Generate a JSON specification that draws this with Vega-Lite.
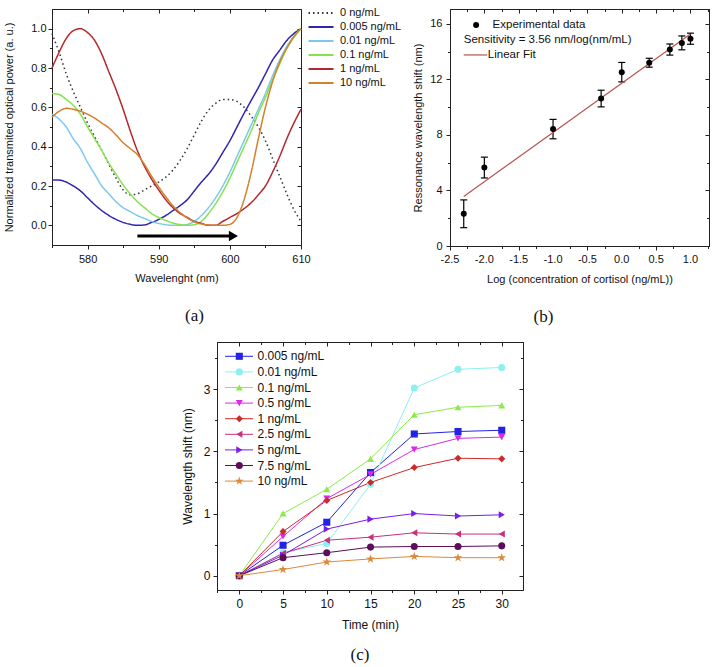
{
"$schema":"https://vega.github.io/schema/vega-lite/v6.json",
"padding":{"left":3,"top":6,"right":0,"bottom":0},
"background":"white",
"config":{
 "font":"Liberation Sans",
 "locale":{"number":{"decimal":".","thousands":",","grouping":[3],"currency":["$",""],"minus":"-"}},
 "view":{"stroke":"#222","strokeWidth":1},
 "axis":{"grid":false,"domainColor":"#222","tickColor":"#222","labelColor":"#111","titleColor":"#111","labelFont":"Liberation Sans","titleFont":"Liberation Sans","labelFontSize":11,"titleFontSize":11,"titleFontWeight":"normal","tickSize":4,"labelPadding":2,"labelFlush":false,"labelOverlap":false},
 "legend":{"labelFont":"Liberation Sans","labelColor":"#111"},
 "title":{"font":"Liberation Serif","fontSize":17,"fontWeight":"normal","color":"#111","orient":"bottom","anchor":"middle","frame":"group"}
},
"resolve":{"scale":{"color":"independent","strokeDash":"independent","fill":"independent","shape":"independent"},"legend":{"color":"independent","strokeDash":"independent","fill":"independent","shape":"independent"}},
"datasets":{
 "spectra":[
{"c":"0 ng/mL","wl":575,"p":0.975},{"c":"0 ng/mL","wl":576,"p":0.88},{"c":"0 ng/mL","wl":577,"p":0.77},{"c":"0 ng/mL","wl":578,"p":0.68},{"c":"0 ng/mL","wl":579,"p":0.60},{"c":"0 ng/mL","wl":580,"p":0.52},{"c":"0 ng/mL","wl":581,"p":0.45},{"c":"0 ng/mL","wl":582,"p":0.38},{"c":"0 ng/mL","wl":583,"p":0.31},{"c":"0 ng/mL","wl":584,"p":0.24},{"c":"0 ng/mL","wl":585,"p":0.18},{"c":"0 ng/mL","wl":586,"p":0.155},{"c":"0 ng/mL","wl":587,"p":0.16},{"c":"0 ng/mL","wl":588,"p":0.18},{"c":"0 ng/mL","wl":589,"p":0.20},{"c":"0 ng/mL","wl":590,"p":0.22},{"c":"0 ng/mL","wl":591,"p":0.245},{"c":"0 ng/mL","wl":592,"p":0.28},{"c":"0 ng/mL","wl":593,"p":0.33},{"c":"0 ng/mL","wl":594,"p":0.39},{"c":"0 ng/mL","wl":595,"p":0.46},{"c":"0 ng/mL","wl":596,"p":0.53},{"c":"0 ng/mL","wl":597,"p":0.585},{"c":"0 ng/mL","wl":598,"p":0.62},{"c":"0 ng/mL","wl":599,"p":0.64},{"c":"0 ng/mL","wl":600,"p":0.64},{"c":"0 ng/mL","wl":601,"p":0.63},{"c":"0 ng/mL","wl":602,"p":0.60},{"c":"0 ng/mL","wl":603,"p":0.555},{"c":"0 ng/mL","wl":604,"p":0.50},{"c":"0 ng/mL","wl":605,"p":0.43},{"c":"0 ng/mL","wl":606,"p":0.34},{"c":"0 ng/mL","wl":607,"p":0.25},{"c":"0 ng/mL","wl":608,"p":0.16},{"c":"0 ng/mL","wl":609,"p":0.08},{"c":"0 ng/mL","wl":610,"p":0.02},
{"c":"0.005 ng/mL","wl":575,"p":0.23},{"c":"0.005 ng/mL","wl":576,"p":0.23},{"c":"0.005 ng/mL","wl":577,"p":0.22},{"c":"0.005 ng/mL","wl":578,"p":0.20},{"c":"0.005 ng/mL","wl":579,"p":0.175},{"c":"0.005 ng/mL","wl":580,"p":0.14},{"c":"0.005 ng/mL","wl":581,"p":0.105},{"c":"0.005 ng/mL","wl":582,"p":0.075},{"c":"0.005 ng/mL","wl":583,"p":0.05},{"c":"0.005 ng/mL","wl":584,"p":0.03},{"c":"0.005 ng/mL","wl":585,"p":0.015},{"c":"0.005 ng/mL","wl":586,"p":0.005},{"c":"0.005 ng/mL","wl":587,"p":0.0},{"c":"0.005 ng/mL","wl":588,"p":0.002},{"c":"0.005 ng/mL","wl":589,"p":0.015},{"c":"0.005 ng/mL","wl":590,"p":0.03},{"c":"0.005 ng/mL","wl":591,"p":0.05},{"c":"0.005 ng/mL","wl":592,"p":0.075},{"c":"0.005 ng/mL","wl":593,"p":0.10},{"c":"0.005 ng/mL","wl":594,"p":0.13},{"c":"0.005 ng/mL","wl":595,"p":0.175},{"c":"0.005 ng/mL","wl":596,"p":0.22},{"c":"0.005 ng/mL","wl":597,"p":0.26},{"c":"0.005 ng/mL","wl":598,"p":0.31},{"c":"0.005 ng/mL","wl":599,"p":0.37},{"c":"0.005 ng/mL","wl":600,"p":0.43},{"c":"0.005 ng/mL","wl":601,"p":0.50},{"c":"0.005 ng/mL","wl":602,"p":0.57},{"c":"0.005 ng/mL","wl":603,"p":0.635},{"c":"0.005 ng/mL","wl":604,"p":0.70},{"c":"0.005 ng/mL","wl":605,"p":0.77},{"c":"0.005 ng/mL","wl":606,"p":0.84},{"c":"0.005 ng/mL","wl":607,"p":0.89},{"c":"0.005 ng/mL","wl":608,"p":0.94},{"c":"0.005 ng/mL","wl":609,"p":0.975},{"c":"0.005 ng/mL","wl":610,"p":1.0},
{"c":"0.01 ng/mL","wl":575,"p":0.565},{"c":"0.01 ng/mL","wl":576,"p":0.54},{"c":"0.01 ng/mL","wl":577,"p":0.50},{"c":"0.01 ng/mL","wl":578,"p":0.44},{"c":"0.01 ng/mL","wl":579,"p":0.39},{"c":"0.01 ng/mL","wl":580,"p":0.32},{"c":"0.01 ng/mL","wl":581,"p":0.26},{"c":"0.01 ng/mL","wl":582,"p":0.20},{"c":"0.01 ng/mL","wl":583,"p":0.16},{"c":"0.01 ng/mL","wl":584,"p":0.12},{"c":"0.01 ng/mL","wl":585,"p":0.09},{"c":"0.01 ng/mL","wl":586,"p":0.07},{"c":"0.01 ng/mL","wl":587,"p":0.05},{"c":"0.01 ng/mL","wl":588,"p":0.035},{"c":"0.01 ng/mL","wl":589,"p":0.02},{"c":"0.01 ng/mL","wl":590,"p":0.01},{"c":"0.01 ng/mL","wl":591,"p":0.003},{"c":"0.01 ng/mL","wl":592,"p":0.0},{"c":"0.01 ng/mL","wl":593,"p":0.0},{"c":"0.01 ng/mL","wl":594,"p":0.005},{"c":"0.01 ng/mL","wl":595,"p":0.02},{"c":"0.01 ng/mL","wl":596,"p":0.05},{"c":"0.01 ng/mL","wl":597,"p":0.09},{"c":"0.01 ng/mL","wl":598,"p":0.14},{"c":"0.01 ng/mL","wl":599,"p":0.20},{"c":"0.01 ng/mL","wl":600,"p":0.27},{"c":"0.01 ng/mL","wl":601,"p":0.35},{"c":"0.01 ng/mL","wl":602,"p":0.43},{"c":"0.01 ng/mL","wl":603,"p":0.51},{"c":"0.01 ng/mL","wl":604,"p":0.59},{"c":"0.01 ng/mL","wl":605,"p":0.67},{"c":"0.01 ng/mL","wl":606,"p":0.76},{"c":"0.01 ng/mL","wl":607,"p":0.84},{"c":"0.01 ng/mL","wl":608,"p":0.91},{"c":"0.01 ng/mL","wl":609,"p":0.96},{"c":"0.01 ng/mL","wl":610,"p":1.0},
{"c":"0.1 ng/mL","wl":575,"p":0.67},{"c":"0.1 ng/mL","wl":576,"p":0.665},{"c":"0.1 ng/mL","wl":577,"p":0.64},{"c":"0.1 ng/mL","wl":578,"p":0.61},{"c":"0.1 ng/mL","wl":579,"p":0.565},{"c":"0.1 ng/mL","wl":580,"p":0.50},{"c":"0.1 ng/mL","wl":581,"p":0.44},{"c":"0.1 ng/mL","wl":582,"p":0.38},{"c":"0.1 ng/mL","wl":583,"p":0.315},{"c":"0.1 ng/mL","wl":584,"p":0.26},{"c":"0.1 ng/mL","wl":585,"p":0.205},{"c":"0.1 ng/mL","wl":586,"p":0.16},{"c":"0.1 ng/mL","wl":587,"p":0.12},{"c":"0.1 ng/mL","wl":588,"p":0.09},{"c":"0.1 ng/mL","wl":589,"p":0.06},{"c":"0.1 ng/mL","wl":590,"p":0.04},{"c":"0.1 ng/mL","wl":591,"p":0.025},{"c":"0.1 ng/mL","wl":592,"p":0.012},{"c":"0.1 ng/mL","wl":593,"p":0.004},{"c":"0.1 ng/mL","wl":594,"p":0.0},{"c":"0.1 ng/mL","wl":595,"p":0.003},{"c":"0.1 ng/mL","wl":596,"p":0.02},{"c":"0.1 ng/mL","wl":597,"p":0.06},{"c":"0.1 ng/mL","wl":598,"p":0.11},{"c":"0.1 ng/mL","wl":599,"p":0.17},{"c":"0.1 ng/mL","wl":600,"p":0.24},{"c":"0.1 ng/mL","wl":601,"p":0.32},{"c":"0.1 ng/mL","wl":602,"p":0.40},{"c":"0.1 ng/mL","wl":603,"p":0.48},{"c":"0.1 ng/mL","wl":604,"p":0.57},{"c":"0.1 ng/mL","wl":605,"p":0.65},{"c":"0.1 ng/mL","wl":606,"p":0.74},{"c":"0.1 ng/mL","wl":607,"p":0.82},{"c":"0.1 ng/mL","wl":608,"p":0.90},{"c":"0.1 ng/mL","wl":609,"p":0.955},{"c":"0.1 ng/mL","wl":610,"p":1.0},
{"c":"1 ng/mL","wl":575,"p":0.80},{"c":"1 ng/mL","wl":576,"p":0.88},{"c":"1 ng/mL","wl":577,"p":0.95},{"c":"1 ng/mL","wl":578,"p":0.99},{"c":"1 ng/mL","wl":579,"p":1.0},{"c":"1 ng/mL","wl":580,"p":0.98},{"c":"1 ng/mL","wl":581,"p":0.94},{"c":"1 ng/mL","wl":582,"p":0.87},{"c":"1 ng/mL","wl":583,"p":0.78},{"c":"1 ng/mL","wl":584,"p":0.69},{"c":"1 ng/mL","wl":585,"p":0.59},{"c":"1 ng/mL","wl":586,"p":0.48},{"c":"1 ng/mL","wl":587,"p":0.38},{"c":"1 ng/mL","wl":588,"p":0.30},{"c":"1 ng/mL","wl":589,"p":0.235},{"c":"1 ng/mL","wl":590,"p":0.18},{"c":"1 ng/mL","wl":591,"p":0.13},{"c":"1 ng/mL","wl":592,"p":0.09},{"c":"1 ng/mL","wl":593,"p":0.06},{"c":"1 ng/mL","wl":594,"p":0.04},{"c":"1 ng/mL","wl":595,"p":0.02},{"c":"1 ng/mL","wl":596,"p":0.01},{"c":"1 ng/mL","wl":597,"p":0.0},{"c":"1 ng/mL","wl":598,"p":0.0},{"c":"1 ng/mL","wl":599,"p":0.02},{"c":"1 ng/mL","wl":600,"p":0.04},{"c":"1 ng/mL","wl":601,"p":0.06},{"c":"1 ng/mL","wl":602,"p":0.085},{"c":"1 ng/mL","wl":603,"p":0.115},{"c":"1 ng/mL","wl":604,"p":0.155},{"c":"1 ng/mL","wl":605,"p":0.20},{"c":"1 ng/mL","wl":606,"p":0.27},{"c":"1 ng/mL","wl":607,"p":0.35},{"c":"1 ng/mL","wl":608,"p":0.44},{"c":"1 ng/mL","wl":609,"p":0.52},{"c":"1 ng/mL","wl":610,"p":0.59},
{"c":"10 ng/mL","wl":575,"p":0.55},{"c":"10 ng/mL","wl":576,"p":0.58},{"c":"10 ng/mL","wl":577,"p":0.595},{"c":"10 ng/mL","wl":578,"p":0.59},{"c":"10 ng/mL","wl":579,"p":0.58},{"c":"10 ng/mL","wl":580,"p":0.565},{"c":"10 ng/mL","wl":581,"p":0.545},{"c":"10 ng/mL","wl":582,"p":0.52},{"c":"10 ng/mL","wl":583,"p":0.495},{"c":"10 ng/mL","wl":584,"p":0.46},{"c":"10 ng/mL","wl":585,"p":0.42},{"c":"10 ng/mL","wl":586,"p":0.39},{"c":"10 ng/mL","wl":587,"p":0.36},{"c":"10 ng/mL","wl":588,"p":0.31},{"c":"10 ng/mL","wl":589,"p":0.25},{"c":"10 ng/mL","wl":590,"p":0.195},{"c":"10 ng/mL","wl":591,"p":0.145},{"c":"10 ng/mL","wl":592,"p":0.10},{"c":"10 ng/mL","wl":593,"p":0.065},{"c":"10 ng/mL","wl":594,"p":0.038},{"c":"10 ng/mL","wl":595,"p":0.018},{"c":"10 ng/mL","wl":596,"p":0.007},{"c":"10 ng/mL","wl":597,"p":0.002},{"c":"10 ng/mL","wl":598,"p":0.0},{"c":"10 ng/mL","wl":599,"p":0.0},{"c":"10 ng/mL","wl":600,"p":0.005},{"c":"10 ng/mL","wl":601,"p":0.04},{"c":"10 ng/mL","wl":602,"p":0.13},{"c":"10 ng/mL","wl":603,"p":0.27},{"c":"10 ng/mL","wl":604,"p":0.44},{"c":"10 ng/mL","wl":605,"p":0.60},{"c":"10 ng/mL","wl":606,"p":0.73},{"c":"10 ng/mL","wl":607,"p":0.83},{"c":"10 ng/mL","wl":608,"p":0.90},{"c":"10 ng/mL","wl":609,"p":0.96},{"c":"10 ng/mL","wl":610,"p":1.0}
 ],
 "calib":[
{"lc":-2.3,"sh":2.32,"lo":1.32,"hi":3.32},{"lc":-2.0,"sh":5.65,"lo":4.9,"hi":6.4},{"lc":-1.0,"sh":8.42,"lo":7.72,"hi":9.12},{"lc":-0.3,"sh":10.62,"lo":10.02,"hi":11.22},{"lc":0.0,"sh":12.52,"lo":11.82,"hi":13.22},{"lc":0.4,"sh":13.2,"lo":12.88,"hi":13.52},{"lc":0.7,"sh":14.15,"lo":13.75,"hi":14.55},{"lc":0.875,"sh":14.63,"lo":14.13,"hi":15.13},{"lc":1.0,"sh":14.93,"lo":14.53,"hi":15.33}
 ],
 "fit":[{"lc":-2.3,"sh":3.57},{"lc":1.0,"sh":15.27}],
 "bticks":[{"lc":-2.5,"lab":"-2.5"},{"lc":-2,"lab":"-2.0"},{"lc":-1.5,"lab":"-1.5"},{"lc":-1,"lab":"-1.0"},{"lc":-0.5,"lab":"-0.5"},{"lc":0,"lab":"0.0"},{"lc":0.5,"lab":"0.5"},{"lc":1,"lab":"1.0"}],
 "kinetics":[
{"c":"0.005 ng/mL","t":0,"s":0},{"c":"0.005 ng/mL","t":5,"s":0.49},{"c":"0.005 ng/mL","t":10,"s":0.86},{"c":"0.005 ng/mL","t":15,"s":1.66},{"c":"0.005 ng/mL","t":20,"s":2.28},{"c":"0.005 ng/mL","t":25,"s":2.32},{"c":"0.005 ng/mL","t":30,"s":2.34},
{"c":"0.01 ng/mL","t":0,"s":0},{"c":"0.01 ng/mL","t":5,"s":0.37},{"c":"0.01 ng/mL","t":10,"s":0.52},{"c":"0.01 ng/mL","t":15,"s":1.47},{"c":"0.01 ng/mL","t":20,"s":3.02},{"c":"0.01 ng/mL","t":25,"s":3.32},{"c":"0.01 ng/mL","t":30,"s":3.35},
{"c":"0.1 ng/mL","t":0,"s":0},{"c":"0.1 ng/mL","t":5,"s":1.0},{"c":"0.1 ng/mL","t":10,"s":1.39},{"c":"0.1 ng/mL","t":15,"s":1.88},{"c":"0.1 ng/mL","t":20,"s":2.59},{"c":"0.1 ng/mL","t":25,"s":2.71},{"c":"0.1 ng/mL","t":30,"s":2.74},
{"c":"0.5 ng/mL","t":0,"s":0},{"c":"0.5 ng/mL","t":5,"s":0.63},{"c":"0.5 ng/mL","t":10,"s":1.24},{"c":"0.5 ng/mL","t":15,"s":1.63},{"c":"0.5 ng/mL","t":20,"s":2.03},{"c":"0.5 ng/mL","t":25,"s":2.21},{"c":"0.5 ng/mL","t":30,"s":2.23},
{"c":"1 ng/mL","t":0,"s":0},{"c":"1 ng/mL","t":5,"s":0.71},{"c":"1 ng/mL","t":10,"s":1.21},{"c":"1 ng/mL","t":15,"s":1.5},{"c":"1 ng/mL","t":20,"s":1.74},{"c":"1 ng/mL","t":25,"s":1.89},{"c":"1 ng/mL","t":30,"s":1.88},
{"c":"2.5 ng/mL","t":0,"s":0},{"c":"2.5 ng/mL","t":5,"s":0.36},{"c":"2.5 ng/mL","t":10,"s":0.57},{"c":"2.5 ng/mL","t":15,"s":0.62},{"c":"2.5 ng/mL","t":20,"s":0.69},{"c":"2.5 ng/mL","t":25,"s":0.67},{"c":"2.5 ng/mL","t":30,"s":0.67},
{"c":"5 ng/mL","t":0,"s":0},{"c":"5 ng/mL","t":5,"s":0.33},{"c":"5 ng/mL","t":10,"s":0.75},{"c":"5 ng/mL","t":15,"s":0.91},{"c":"5 ng/mL","t":20,"s":1.0},{"c":"5 ng/mL","t":25,"s":0.96},{"c":"5 ng/mL","t":30,"s":0.98},
{"c":"7.5 ng/mL","t":0,"s":0},{"c":"7.5 ng/mL","t":5,"s":0.29},{"c":"7.5 ng/mL","t":10,"s":0.37},{"c":"7.5 ng/mL","t":15,"s":0.46},{"c":"7.5 ng/mL","t":20,"s":0.47},{"c":"7.5 ng/mL","t":25,"s":0.47},{"c":"7.5 ng/mL","t":30,"s":0.48},
{"c":"10 ng/mL","t":0,"s":0},{"c":"10 ng/mL","t":5,"s":0.10},{"c":"10 ng/mL","t":10,"s":0.22},{"c":"10 ng/mL","t":15,"s":0.27},{"c":"10 ng/mL","t":20,"s":0.31},{"c":"10 ng/mL","t":25,"s":0.29},{"c":"10 ng/mL","t":30,"s":0.29}
 ]
},
"vconcat":[
 {"hconcat":[
  {
   "width":249,"height":236,
   "title":{"text":"(a)","dx":18,"offset":25},
   "resolve":{"axis":{"x":"independent","y":"independent"}},
   "layer":[
    {"layer":[
    {"data":{"name":"spectra"},
     "mark":{"type":"line","interpolate":"monotone","strokeWidth":1.5},
     "encoding":{
      "x":{"field":"wl","type":"quantitative","scale":{"domain":[575,610],"nice":false,"zero":false},
           "axis":{"title":"Wavelenght (nm)","labelOverlap":false,"values":[580,590,600,610],"format":"d","labelPadding":4,"titlePadding":8}},
      "y":{"field":"p","type":"quantitative","scale":{"domain":[-0.1,1.1],"nice":false,"zero":false},
           "axis":{"title":"Normalized transmited optical power (a. u.)","labelOverlap":false,"values":[0,0.2,0.4,0.6,0.8,1.0],"format":".1f","titlePadding":16}},
      "color":{"field":"c","type":"nominal","scale":{"domain":["0 ng/mL","0.005 ng/mL","0.01 ng/mL","0.1 ng/mL","1 ng/mL","10 ng/mL"],"range":["#333333","#3025B0","#7CC8EA","#84E24C","#B3282C","#D4812F"]},
               "legend":{"orient":"none","legendX":263,"legendY":-2,"title":null,"symbolType":"M-2.5,0H2.5","symbolSize":100,"symbolStrokeWidth":2,"labelFontSize":11,"labelOffset":13,"rowPadding":3,"padding":0}},
      "strokeDash":{"field":"c","type":"nominal","scale":{"domain":["0 ng/mL","0.005 ng/mL","0.01 ng/mL","0.1 ng/mL","1 ng/mL","10 ng/mL"],"range":[[1.5,3],[1,0],[1,0],[1,0],[1,0],[1,0]]},
               "legend":{"orient":"none","legendX":263,"legendY":-2,"title":null,"symbolType":"M-2.5,0H2.5","symbolSize":100,"symbolStrokeWidth":2,"labelFontSize":11,"labelOffset":13,"rowPadding":3,"padding":0}}
     }},
    {"data":{"values":[{}]},"mark":{"type":"rule","strokeWidth":3,"color":"black"},
     "encoding":{"x":{"datum":587},"x2":{"datum":600},"y":{"datum":-0.054}}},
    {"data":{"values":[{}]},"mark":{"type":"point","shape":"triangle-right","filled":true,"size":110,"color":"black","opacity":1},
     "encoding":{"x":{"datum":600.5},"y":{"datum":-0.054}}}
    ]},
    {"data":{"values":[{}]},"mark":{"type":"point","opacity":0},
     "encoding":{
      "x":{"datum":590,"axis":{"orient":"bottom","labels":false,"domain":false,"title":null,"values":[575,585,595,605],"tickSize":2.5}},
      "y":{"datum":0.5,"axis":{"orient":"left","labels":false,"domain":false,"title":null,"values":[0.1,0.3,0.5,0.7,0.9],"tickSize":2.5}}
     }},
    {"data":{"values":[{}]},"mark":{"type":"point","opacity":0},
     "encoding":{
      "x":{"datum":590,"axis":{"orient":"top","labels":false,"title":null,"values":[575,580,585,590,595,600,605,610],"tickSize":{"condition":{"test":"datum.value % 10 != 0","value":-2.5},"value":-4}}},
      "y":{"datum":0.5,"axis":{"orient":"right","labels":false,"title":null,"values":[0,0.1,0.2,0.3,0.4,0.5,0.6,0.7,0.8,0.9,1.0],"tickSize":{"condition":{"test":"round(datum.value*10) % 2 != 0","value":-2.5},"value":-4}}}
     }}
   ]
  },
  {
   "width":259,"height":237,
   "title":{"text":"(b)","dx":-36,"offset":25},
   "resolve":{"axis":{"x":"independent","y":"independent"}},
   "layer":[
    {"layer":[
    {"data":{"name":"calib"},
     "mark":{"type":"rule","color":"black","strokeWidth":1.2},
     "encoding":{
      "x":{"field":"lc","type":"quantitative","scale":{"domain":[-2.5,1.27],"nice":false,"zero":false},
           "axis":{"title":"Log (concentration of cortisol (ng/mL))","labelOverlap":false,"labelOpacity":0,"values":[-2.5,-2,-1.5,-1,-0.5,0,0.5,1],"format":".1f","labelPadding":4,"titlePadding":8}},
      "y":{"field":"lo","type":"quantitative","scale":{"domain":[0,17.07],"nice":false,"zero":false},
           "axis":{"title":"Ressonance wavelength shift (nm)","labelOverlap":false,"values":[0,4,8,12,16],"format":"d","labelPadding":4,"titlePadding":6}},
      "y2":{"field":"hi"}
     }},
    {"data":{"name":"bticks"},"mark":{"type":"text","align":"center","baseline":"top","fontSize":11,"color":"#111"},
     "encoding":{"x":{"field":"lc","type":"quantitative"},"y":{"datum":-0.6},"text":{"field":"lab"}}},
    {"data":{"name":"calib"},"mark":{"type":"tick","orient":"horizontal","size":7,"thickness":1.2,"color":"black","opacity":1},
     "encoding":{"x":{"field":"lc","type":"quantitative"},"y":{"field":"hi","type":"quantitative"}}},
    {"data":{"name":"calib"},"mark":{"type":"tick","orient":"horizontal","size":7,"thickness":1.2,"color":"black","opacity":1},
     "encoding":{"x":{"field":"lc","type":"quantitative"},"y":{"field":"lo","type":"quantitative"}}},
    {"data":{"name":"fit"},"mark":{"type":"line","color":"#B9534D","strokeWidth":1.2},
     "encoding":{"x":{"field":"lc","type":"quantitative"},"y":{"field":"sh","type":"quantitative"}}},
    {"data":{"name":"calib"},"mark":{"type":"circle","size":36,"color":"black","opacity":1},
     "encoding":{"x":{"field":"lc","type":"quantitative"},"y":{"field":"sh","type":"quantitative"}}},
    {"data":{"values":[{}]},"mark":{"type":"circle","size":36,"color":"black","opacity":1},
     "encoding":{"x":{"datum":-2.12},"y":{"datum":15.92}}},
    {"data":{"values":[{}]},"mark":{"type":"text","align":"left","baseline":"middle","fontSize":11.5,"color":"#111","text":"Experimental data"},
     "encoding":{"x":{"datum":-1.88},"y":{"datum":15.92}}},
    {"data":{"values":[{}]},"mark":{"type":"text","align":"left","baseline":"middle","fontSize":11.5,"color":"#111","text":"Sensitivity = 3.56 nm/log(nm/mL)"},
     "encoding":{"x":{"datum":-2.3},"y":{"datum":14.87}}},
    {"data":{"values":[{}]},"mark":{"type":"rule","color":"#B9534D","strokeWidth":1.2},
     "encoding":{"x":{"datum":-2.3},"x2":{"datum":-1.96},"y":{"datum":13.76}}},
    {"data":{"values":[{}]},"mark":{"type":"text","align":"left","baseline":"middle","fontSize":11.5,"color":"#111","text":"Linear Fit"},
     "encoding":{"x":{"datum":-1.95},"y":{"datum":13.76}}}
    ]},
    {"data":{"values":[{}]},"mark":{"type":"point","opacity":0},
     "encoding":{
      "x":{"datum":0,"axis":{"orient":"bottom","labels":false,"domain":false,"title":null,"values":[-2.25,-1.75,-1.25,-0.75,-0.25,0.25,0.75,1.25],"tickSize":2.5}},
      "y":{"datum":8,"axis":{"orient":"left","labels":false,"domain":false,"title":null,"values":[2,6,10,14],"tickSize":2.5}}
     }},
    {"data":{"values":[{}]},"mark":{"type":"point","opacity":0},
     "encoding":{
      "x":{"datum":0,"axis":{"orient":"top","labels":false,"title":null,"values":[-2.5,-2.25,-2,-1.75,-1.5,-1.25,-1,-0.75,-0.5,-0.25,0,0.25,0.5,0.75,1,1.25],"tickSize":{"condition":{"test":"(datum.value*2) % 1 != 0","value":-2.5},"value":-4}}},
      "y":{"datum":8,"axis":{"orient":"right","labels":false,"title":null,"values":[0,2,4,6,8,10,12,14,16],"tickSize":{"condition":{"test":"datum.value % 4 != 0","value":-2.5},"value":-4}}}
     }}
   ]
  }
 ],"spacing":9,
 "resolve":{"scale":{"color":"independent","strokeDash":"independent","fill":"independent","shape":"independent"},"legend":{"color":"independent","strokeDash":"independent","fill":"independent","shape":"independent"}}},
 {"hconcat":[
  {"width":128,"height":1,"view":{"stroke":null},"data":{"values":[]},"mark":"point"},
  {
   "width":306,"height":248,
   "title":{"text":"(c)","dx":-10,"offset":17},
   "resolve":{"axis":{"x":"independent","y":"independent"}},
   "layer":[
    {"data":{"name":"kinetics"},
     "layer":[
    {"mark":{"type":"line","strokeWidth":1},
     "encoding":{
      "x":{"field":"t","type":"quantitative","scale":{"domain":[-2.55,32.43],"nice":false,"zero":false},
           "axis":{"title":"Time (min)","labelOverlap":false,"values":[0,5,10,15,20,25,30],"format":"d","labelFontSize":12,"titleFontSize":12,"labelPadding":4,"titlePadding":10}},
      "y":{"field":"s","type":"quantitative","scale":{"domain":[-0.23,3.76],"nice":false,"zero":false},
           "axis":{"title":"Wavelength shift (nm)","labelOverlap":false,"values":[0,1,2,3],"format":"d","labelFontSize":12,"titleFontSize":12,"labelPadding":3,"titlePadding":9}},
      "color":{"field":"c","type":"nominal","scale":{"domain":["0.005 ng/mL","0.01 ng/mL","0.1 ng/mL","0.5 ng/mL","1 ng/mL","2.5 ng/mL","5 ng/mL","7.5 ng/mL","10 ng/mL"],"range":["#2323E6","#8CF0F0","#8CEB4B","#DB2BE6","#CC2A2A","#C8307C","#7A1EE6","#5C0E5C","#DA8A3C"]},
               "legend":{"orient":"none","legendX":16,"legendY":8.3,"title":null,"symbolType":"M-4,0H4","symbolSize":49,"symbolStrokeWidth":1,"labelFontSize":12,"labelOffset":12.5,"rowPadding":3.6,"padding":0}}
     }},
    {"mark":{"type":"point","filled":true,"size":50,"opacity":1},
     "encoding":{
      "x":{"field":"t","type":"quantitative"},
      "y":{"field":"s","type":"quantitative"},
      "fill":{"field":"c","type":"nominal","sort":null,"scale":{"range":["#2323E6","#8CF0F0","#8CEB4B","#DB2BE6","#CC2A2A","#C8307C","#7A1EE6","#5C0E5C","#DA8A3C"]},
              "legend":{"orient":"none","legendX":16.3,"legendY":8.3,"title":null,"symbolSize":50,"symbolStrokeWidth":0,"labelFontSize":12,"labelOpacity":0,"labelOffset":12.5,"rowPadding":3.6,"padding":0}},
      "shape":{"field":"c","type":"nominal","sort":null,"scale":{"range":["square","circle","triangle-up","triangle-down","diamond","triangle-left","triangle-right","circle","M0,-1.3L0.29,-0.4L1.24,-0.4L0.47,0.16L0.77,1.05L0,0.5L-0.77,1.05L-0.47,0.16L-1.24,-0.4L-0.29,-0.4Z"]},
              "legend":{"orient":"none","legendX":16.3,"legendY":8.3,"title":null,"symbolSize":50,"symbolStrokeWidth":0,"labelFontSize":12,"labelOpacity":0,"labelOffset":12.5,"rowPadding":3.6,"padding":0}}
     }}
     ]},
    {"data":{"values":[{}]},"mark":{"type":"point","opacity":0},
     "encoding":{
      "x":{"datum":15,"axis":{"orient":"bottom","labels":false,"domain":false,"title":null,"values":[-2.5,2.5,7.5,12.5,17.5,22.5,27.5],"tickSize":2.5}},
      "y":{"datum":1,"axis":{"orient":"left","labels":false,"domain":false,"title":null,"values":[0.5,1.5,2.5,3.5],"tickSize":2.5}}
     }},
    {"data":{"values":[{}]},"mark":{"type":"point","opacity":0},
     "encoding":{
      "x":{"datum":15,"axis":{"orient":"top","labels":false,"title":null,"values":[-2.5,0,2.5,5,7.5,10,12.5,15,17.5,20,22.5,25,27.5,30],"tickSize":{"condition":{"test":"datum.value % 5 != 0","value":-2.5},"value":-4}}},
      "y":{"datum":1,"axis":{"orient":"right","labels":false,"title":null,"values":[0,0.5,1,1.5,2,2.5,3,3.5],"tickSize":{"condition":{"test":"datum.value % 1 != 0","value":-2.5},"value":-4}}}
     }}
   ]
  }
 ],"spacing":0,
 "resolve":{"scale":{"color":"independent","strokeDash":"independent","fill":"independent","shape":"independent"},"legend":{"color":"independent","strokeDash":"independent","fill":"independent","shape":"independent"}}}
],
"spacing":15
}
